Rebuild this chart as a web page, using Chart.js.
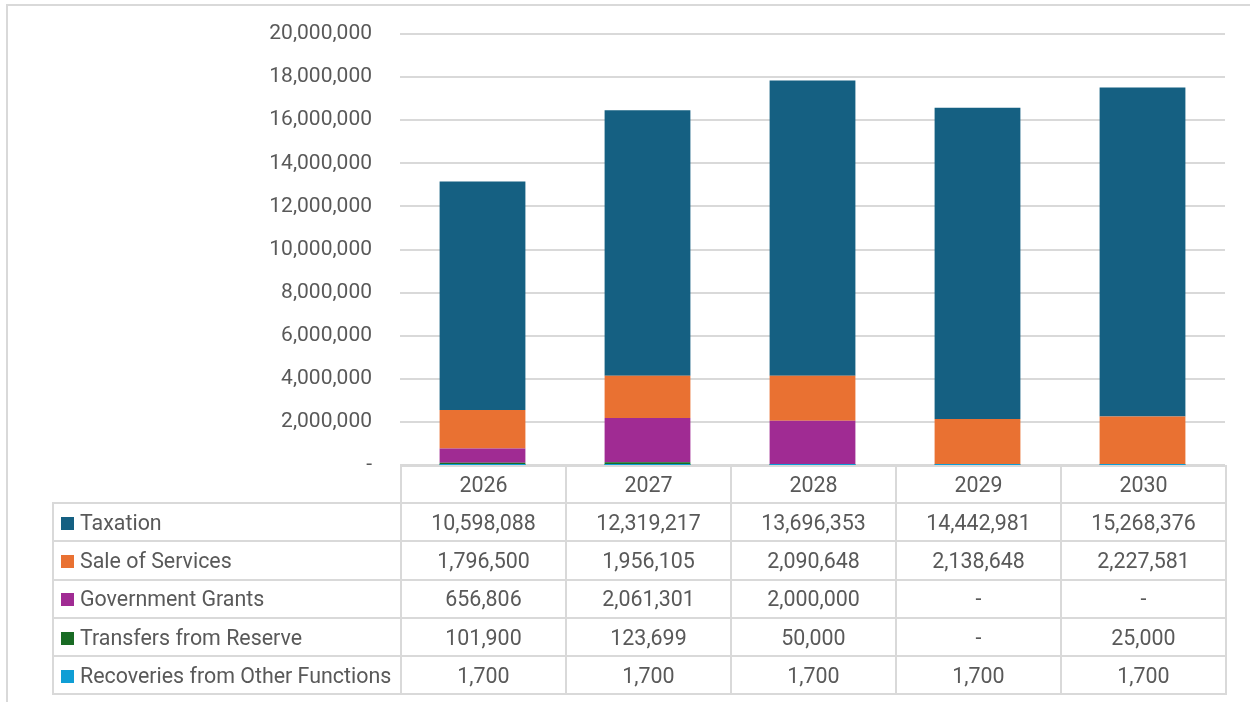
<!DOCTYPE html>
<html>
<head>
<meta charset="utf-8">
<script src="https://cdn.jsdelivr.net/npm/chart.js@4/dist/chart.umd.min.js"></script>
<style>
  body { margin: 0; background: #fff; }
  #wrap { position: relative; width: 1250px; height: 702px; overflow: hidden; }
  #frame { position: absolute; left: 6px; top: 4px; width: 1260px; height: 710px;
    border-left: 2px solid #d9d9d9; border-top: 2px solid #d9d9d9; box-sizing: border-box; }
  canvas { position: absolute; left: 0; top: 0; }
  #tbl { position: absolute; border-collapse: collapse; table-layout: fixed;
    font-family: Roboto, "Liberation Sans", sans-serif; font-size: 21.4px; color: #595959; }
  #tbl td { border: 2px solid #d9d9d9; text-align: center; padding: 0; white-space: nowrap; }
  #tbl td.lab { text-align: left; padding-left: 7px; }
  #tbl td.blank { border: none; }
  .sw { display: inline-block; width: 13px; height: 13px; margin-right: 6px; vertical-align: 0px; }
</style>
</head>
<body>
<div id="wrap">
  <div id="frame"></div>
  <canvas id="barChart" width="1250" height="702"></canvas>
  <table id="tbl"></table>
</div>
<script>
const years = ['2026', '2027', '2028', '2029', '2030'];
const taxation = [10598088, 12319217, 13696353, 14442981, 15268376];
const saleOfServices = [1796500, 1956105, 2090648, 2138648, 2227581];
const governmentGrants = [656806, 2061301, 2000000, 0, 0];
const transfersFromReserve = [101900, 123699, 50000, 0, 25000];
const recoveries = [1700, 1700, 1700, 1700, 1700];
const yTicks = [0, 2000000, 4000000, 6000000, 8000000, 10000000, 12000000, 14000000, 16000000, 18000000, 20000000];

// stacking order bottom -> top
const series = [
  { label: 'Recoveries from Other Functions', data: recoveries, color: '#0F9ED5' },
  { label: 'Transfers from Reserve', data: transfersFromReserve, color: '#196B24' },
  { label: 'Government Grants', data: governmentGrants, color: '#A02B93' },
  { label: 'Sale of Services', data: saleOfServices, color: '#E97132' },
  { label: 'Taxation', data: taxation, color: '#156082' }
];

const fmt = v => v === 0 ? '-' : v.toLocaleString('en-US');

const ctx = document.getElementById('barChart').getContext('2d');
const chart = new Chart(ctx, {
  type: 'bar',
  data: {
    labels: years,
    datasets: series.map(s => ({
      label: s.label,
      data: s.data,
      backgroundColor: s.color,
      borderWidth: 0,
      barPercentage: 0.52,
      categoryPercentage: 1
    }))
  },
  options: {
    responsive: false,
    animation: false,
    layout: { padding: { left: 0, top: 34, right: 25, bottom: 237 } },
    plugins: { legend: { display: false }, tooltip: { enabled: false } },
    scales: {
      x: { stacked: true, display: false },
      y: {
        stacked: true,
        min: 0,
        max: 20000000,
        afterFit: scale => {
          scale.width = 400;
          scale.paddingTop = 0;
          scale.paddingBottom = 0;
        },
        afterBuildTicks: scale => { scale.ticks = yTicks.map(v => ({ value: v })); },
        border: { display: false },
        grid: { color: '#d9d9d9', lineWidth: 2, drawTicks: false },
        ticks: {
          padding: 28,
          color: '#595959',
          font: { family: 'Roboto, "Liberation Sans", sans-serif', size: 21 },
          callback: v => fmt(v)
        }
      }
    }
  }
});

// data table under the plot, aligned to the category scale
const area = chart.chartArea;
const colW = (area.right - area.left) / years.length;
const labelLeft = 52;
const tbl = document.getElementById('tbl');
tbl.style.left = labelLeft + 'px';
tbl.style.top = area.bottom + 'px';
tbl.style.width = (area.right - labelLeft) + 'px';

let html = '<colgroup><col style="width:' + (area.left - labelLeft) + 'px">';
years.forEach(() => { html += '<col style="width:' + colW + 'px">'; });
html += '</colgroup>';
html += '<tr style="height:37px"><td class="blank"></td>' + years.map(y => '<td>' + y + '</td>').join('') + '</tr>';
series.slice().reverse().forEach(s => {
  html += '<tr style="height:38.3px"><td class="lab"><span class="sw" style="background:' + s.color + '"></span>' + s.label + '</td>' +
    s.data.map(v => '<td>' + fmt(v) + '</td>').join('') + '</tr>';
});
tbl.innerHTML = html;
</script>
</body>
</html>
